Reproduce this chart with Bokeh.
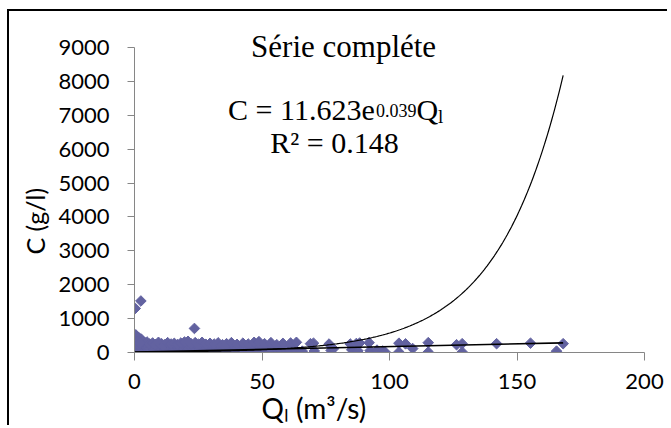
import numpy as np
from bokeh.plotting import figure
from bokeh.models import Range1d, Label, FixedTicker, ColumnDataSource, Title
from bokeh.embed import file_html
from bokeh.resources import INLINE

# ---------------- data ----------------
x_ticks = [0, 50, 100, 150, 200]
y_ticks = [0, 1000, 2000, 3000, 4000, 5000, 6000, 7000, 8000, 9000]

q_low = [0.1, 0.8, 1.6, 2.4, 3.3, 4.2, 5.0, 6.1, 7.0, 8.2, 9.1, 10.3, 11.5, 12.4, 13.6,
         14.8, 15.9, 17.1, 18.0, 19.4, 20.5, 21.7, 22.8, 24.1, 25.3, 26.2, 27.6, 28.9, 30.1,
         31.4, 32.6, 33.9, 35.2, 36.4, 37.9, 39.3, 40.8, 42.1, 43.5, 45.2, 46.8, 48.3, 49.6,
         51.2, 52.9, 54.6, 56.1, 57.8, 59.5, 61.7, 63.2, 65.8]
c_low = [12, 35, 8, 50, 22, 60, 15, 40, 28, 55, 10, 45, 30, 18, 62, 25, 48, 12, 38, 20,
         55, 33, 14, 46, 27, 60, 19, 41, 8, 35, 52, 24, 16, 43, 30, 11, 58, 26, 37, 14,
         49, 21, 33, 9, 44, 28, 17, 52, 23, 36, 12, 40]

q_mid = [0.4, 1.2, 2.0, 2.9, 3.8, 4.7, 5.6, 6.6, 7.6, 8.7, 9.7, 10.9, 12.0, 13.1, 14.2,
         15.4, 16.5, 17.6, 18.8, 19.9, 21.1, 22.3, 23.5, 24.7, 25.8, 27.0, 28.3, 29.5, 30.8,
         32.0, 33.3, 34.6, 35.8, 37.2, 38.6, 40.1, 41.5, 42.8, 44.3, 45.9, 47.5, 49.0, 50.5,
         52.1, 53.8, 55.4, 57.0, 58.7, 60.4, 62.3]
c_mid = [160, 140, 185, 120, 170, 150, 130, 175, 115, 160, 145, 180, 125, 165, 140,
         110, 170, 150, 135, 185, 120, 160, 140, 175, 130, 155, 115, 170, 140, 125,
         165, 135, 150, 110, 175, 140, 120, 160, 130, 150, 115, 170, 135, 125, 155,
         140, 110, 165, 120, 145]

q_high = [0.0, 0.3, 0.7, 1.1, 1.5, 2.0, 2.6, 3.2, 4.0, 4.9, 5.9, 7.1, 8.3, 9.4, 10.6,
          11.8, 13.0, 14.3, 15.6, 16.9, 18.2, 19.6, 21.0, 22.2, 23.8, 25.1, 26.5, 28.0,
          29.6, 31.2, 32.8, 34.5, 36.1, 38.0, 40.2, 42.5, 44.6, 46.9, 48.8, 51.0, 53.5,
          55.8, 58.2, 61.2, 63.5]
c_high = [300, 420, 480, 390, 450, 360, 400, 330, 290, 310, 250, 280, 240, 300, 260,
          230, 290, 250, 270, 235, 280, 310, 330, 260, 290, 245, 300, 240, 270, 250,
          285, 230, 260, 290, 240, 275, 250, 300, 320, 260, 290, 230, 270, 280, 300]

q_zero = [0.0, 0.0, 0.2, 0.5, 0.9, 1.3, 1.8, 2.2]
c_zero = [100, 200, 300, 520, 250, 330, 220, 280]

q_sparse = [69.0, 70.2, 70.5, 76.3, 77.1, 78.0, 84.6, 85.2, 87.0, 87.6, 88.3, 92.0, 92.4,
            95.1, 97.3, 98.2, 103.7, 103.7, 106.3, 109.1, 115.2, 115.2, 126.3, 128.5,
            128.5, 142.0, 155.3, 165.5, 168.1]
c_sparse = [260, 275, 45, 250, 60, 110, 250, 80, 265, 50, 280, 290, 55, 70, 45, 20, 275,
            15, 255, 115, 290, 15, 230, 260, 15, 260, 275, 40, 260]

q_out = [0.3, 2.5, 23.5]
c_out = [1300, 1520, 710]

# linear trend line end points
lin_q = [0.0, 168.1]
lin_c = [10, 285]

# exponential trend line as printed on the chart: C = 11.623 e^(0.039 Q)
exp_a = 11.623
exp_b = 0.039
exp_q_max = 168.1

# ---------------- figure ----------------
q_all = q_low + q_mid + q_high + q_zero + q_sparse + q_out
c_all = c_low + c_mid + c_high + c_zero + c_sparse + c_out
src = ColumnDataSource(data=dict(q=q_all, c=c_all))

# frame extends above the 9000 tick so the title (drawn inside the frame) is not clipped
p = figure(width=660, height=416, output_backend="svg", toolbar_location=None,
           x_range=Range1d(0, 200), y_range=Range1d(0, 10033),
           min_border_left=125, min_border_right=25, min_border_top=1,
           min_border_bottom=75)
p.styles = {"margin-left": "7px", "margin-top": "9px",
            "border-left": "2px solid black", "border-top": "2px solid black"}
p.outline_line_color = None
p.grid.visible = False
p.background_fill_color = "white"
p.border_fill_color = "white"

axis_color = "#868686"
for ax in (p.xaxis[0], p.yaxis[0]):
    ax.axis_line_color = axis_color
    ax.major_tick_line_color = axis_color
    ax.minor_tick_line_color = None
    ax.major_tick_in = 0
    ax.major_label_text_font = "Lato"
    ax.major_label_text_font_size = "22px"
    ax.major_label_text_color = "black"

p.xaxis.ticker = FixedTicker(ticks=x_ticks)
p.yaxis.ticker = FixedTicker(ticks=y_ticks)
p.yaxis.bounds = (0, 9000)
p.xaxis.major_tick_out = 8
p.yaxis.major_tick_out = 7
p.xaxis.major_label_standoff = 13
p.yaxis.major_label_standoff = 18

p.add_layout(Title(text="C (g/l)", align="left", offset=98, text_font="Lato",
                   text_font_size="25px", text_font_style="normal",
                   text_color="black", standoff=11), "left")
p.add_layout(Title(text="Qₗ (m³/s)", align="left", offset=127, text_font="Lato",
                   text_font_size="28px", text_font_style="normal",
                   text_color="black", standoff=-6), "below")

p.scatter("q", "c", source=src, marker="square", angle=np.pi / 4, size=7.5,
          fill_color="#6262A0", line_color="#6262A0")

curve_q = np.linspace(0, exp_q_max, 300)
curve_c = exp_a * np.exp(exp_b * curve_q)
p.line(curve_q, curve_c, line_color="black", line_width=1.2)
p.line(lin_q, lin_c, line_color="black", line_width=1.6)

serif = "Liberation Serif"
p.add_layout(Label(x=82, y=9030, text="Série compléte", text_font=serif,
                   text_font_size="31px", text_align="center",
                   text_baseline="alphabetic", text_color="black"))

eq_x, eq_y = 36.7, 7171
p.add_layout(Label(x=eq_x, y=eq_y, text="C = 11.623e", text_font=serif,
                   text_font_size="30px", text_baseline="alphabetic", text_color="black"))
p.add_layout(Label(x=eq_x, y=eq_y, x_offset=148, y_offset=-1.5, text="0.039",
                   text_font=serif, text_font_size="18px", text_baseline="alphabetic",
                   text_color="black"))
p.add_layout(Label(x=eq_x, y=eq_y, x_offset=188.5, text="Q", text_font=serif,
                   text_font_size="30px", text_baseline="alphabetic", text_color="black"))
p.add_layout(Label(x=eq_x, y=eq_y, x_offset=210, y_offset=-7, text="l",
                   text_font=serif, text_font_size="19px", text_baseline="alphabetic",
                   text_color="black"))
p.add_layout(Label(x=78.4, y=6197, text="R² = 0.148", text_font=serif,
                   text_font_size="30px", text_align="center",
                   text_baseline="alphabetic", text_color="black"))

open("out.html", "w").write(file_html(p, INLINE))
